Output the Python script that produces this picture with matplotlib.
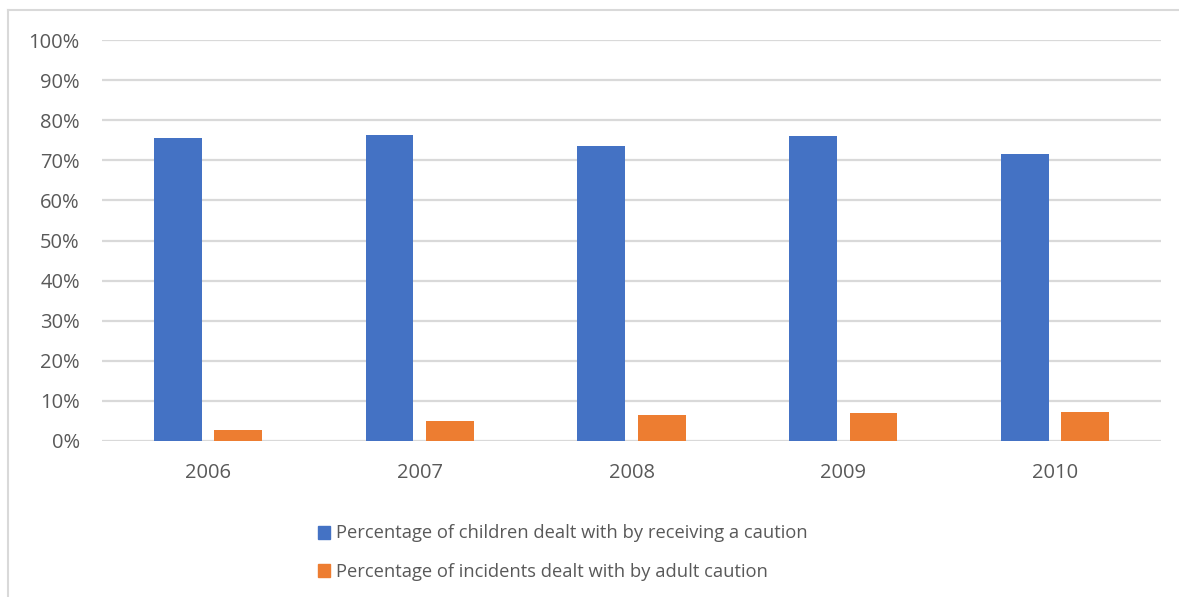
import numpy as np
import matplotlib
matplotlib.use("Agg")
from matplotlib import pyplot as plt
from matplotlib.lines import Line2D
from matplotlib.ticker import PercentFormatter

years = ["2006", "2007", "2008", "2009", "2010"]
children_caution = [75.6, 76.4, 73.5, 76.0, 71.5]
adult_caution = [2.8, 5.1, 6.4, 6.9, 7.3]
series_labels = [
    "Percentage of children dealt with by receiving a caution",
    "Percentage of incidents dealt with by adult caution",
]

blue = "#4472c4"
orange = "#ed7d31"
grey_text = "#595959"

plt.rcParams["font.family"] = ["Open Sans", "DejaVu Sans"]

fig = plt.figure(figsize=(11.79, 5.97), dpi=100)
ax = fig.add_axes([102 / 1179, 1 - 441 / 597, (1161 - 102) / 1179, 401 / 597])

x = np.arange(len(years))
w = 0.225
off = 0.1425
ax.bar(x - off, children_caution, w, color=blue, zorder=3)
ax.bar(x + off, adult_caution, w, color=orange, zorder=3)

ax.set_xlim(-0.5, len(years) - 0.5)
ax.set_ylim(0, 100)
ax.set_yticks(np.arange(0, 101, 10))
ax.yaxis.set_major_formatter(PercentFormatter(decimals=0))
ax.set_xticks(x)
ax.set_xticklabels(years)
ax.grid(axis="y", color="#d9d9d9", linewidth=1.6, zorder=0)
ax.tick_params(length=0, labelsize=14.5, colors=grey_text)
ax.tick_params(axis="y", pad=16)
ax.tick_params(axis="x", pad=16)
for s in ax.spines.values():
    s.set_visible(False)

# legend stacked below the axis, one entry per row
handles = [plt.Rectangle((0, 0), 1, 1, color=blue),
           plt.Rectangle((0, 0), 1, 1, color=orange)]
fig.legend(handles, series_labels, loc="upper left",
           bbox_to_anchor=(301 / 1179, 1 - 508 / 597), frameon=False,
           fontsize=13.2, labelcolor=grey_text, handlelength=0.7,
           handleheight=0.7, handletextpad=0.3, labelspacing=1.1)

# chart area outline (top and left edges)
fig.add_artist(Line2D([8 / 1179, 1.0], [1 - 10 / 597] * 2,
                      transform=fig.transFigure, color="#d9d9d9", linewidth=1.5))
fig.add_artist(Line2D([8 / 1179] * 2, [0, 1 - 10 / 597],
                      transform=fig.transFigure, color="#d9d9d9", linewidth=1.5))

fig.savefig("out.png", dpi=100)
